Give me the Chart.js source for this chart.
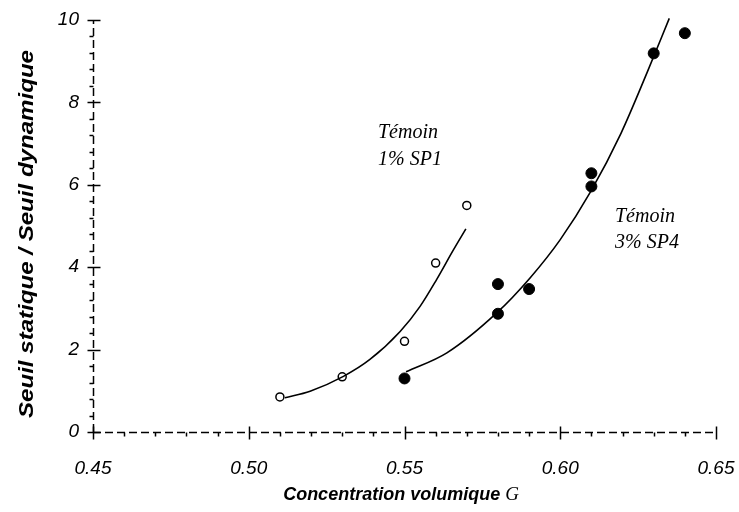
<!DOCTYPE html>
<html>
<head>
<meta charset="utf-8">
<script src="https://cdn.jsdelivr.net/npm/chart.js@4.4.1/dist/chart.umd.min.js"></script>
<style>
  html, body { margin: 0; padding: 0; background: #fff; }
  #wrap { width: 739px; height: 512px; }
</style>
</head>
<body>
<div id="wrap"><canvas id="seuilChart" width="739" height="512"></canvas></div>
<script>
// points mesurés - Témoin 1% SP1 (cercles ouverts)
const sp1X = [0.51, 0.53, 0.55, 0.56, 0.57];
const sp1Y = [0.85, 1.34, 2.2, 4.1, 5.5];

// points mesurés - Témoin 3% SP4 (cercles pleins)
const sp4X = [0.55, 0.58, 0.58, 0.59, 0.61, 0.61, 0.63, 0.64];
const sp4Y = [1.3, 3.59, 2.87, 3.47, 6.28, 5.96, 9.19, 9.68];

// courbes d'ajustement
const fit1X = [0.5116, 0.5197, 0.5304, 0.5389, 0.5486, 0.555, 0.5603, 0.5657, 0.5697];
const fit1Y = [0.83, 0.99, 1.35, 1.76, 2.44, 3.05, 3.70, 4.42, 4.93];
const fit2X = [0.5505, 0.5636, 0.5796, 0.5903, 0.60, 0.6098, 0.6195, 0.6278, 0.635];
const fit2Y = [1.46, 1.92, 2.89, 3.74, 4.67, 5.84, 7.25, 8.71, 10.04];

// graduations
const xTicks = [0.45, 0.50, 0.55, 0.60, 0.65];
const xMinor = [0.46, 0.47, 0.48, 0.49, 0.51, 0.52, 0.53, 0.54, 0.56, 0.57, 0.58, 0.59, 0.61, 0.62, 0.63, 0.64];
const yTicks = [0, 2, 4, 6, 8, 10];
const yMinor = [0.4, 0.8, 1.2, 1.6, 2.4, 2.8, 3.2, 3.6, 4.4, 4.8, 5.2, 5.6, 6.4, 6.8, 7.2, 7.6, 8.4, 8.8, 9.2, 9.6];

const toPts = (xs, ys) => xs.map((x, i) => ({x: x, y: ys[i]}));

// axes en tirets, graduations, titres et textes
const decor = {
  id: 'decor',
  beforeDatasetsDraw(chart) {
    const ctx = chart.ctx;
    const sx = chart.scales.x, sy = chart.scales.y;
    const area = chart.chartArea;
    const yb = Math.round(area.bottom) + 0.5;
    const xl = Math.round(area.left) + 0.5;
    ctx.save();
    ctx.strokeStyle = '#000';
    ctx.lineWidth = 1.5;
    ctx.setLineDash([8, 4]);
    ctx.beginPath();
    ctx.moveTo(area.left, yb);
    ctx.lineTo(area.right, yb);
    ctx.moveTo(xl, area.bottom);
    ctx.lineTo(xl, area.top);
    ctx.stroke();
    ctx.setLineDash([]);
    ctx.beginPath();
    xTicks.forEach(v => {
      const p = Math.round(sx.getPixelForValue(v)) + 0.5;
      ctx.moveTo(p, yb - 6);
      ctx.lineTo(p, yb + 7);
    });
    xMinor.forEach(v => {
      const p = Math.round(sx.getPixelForValue(v)) + 0.5;
      ctx.moveTo(p, yb);
      ctx.lineTo(p, yb + 4);
    });
    yTicks.forEach(v => {
      const p = Math.round(sy.getPixelForValue(v)) + 0.5;
      ctx.moveTo(xl - 6, p);
      ctx.lineTo(xl + 7, p);
    });
    yMinor.forEach(v => {
      const p = Math.round(sy.getPixelForValue(v)) + 0.5;
      ctx.moveTo(xl - 4, p);
      ctx.lineTo(xl, p);
    });
    ctx.stroke();
    ctx.restore();
  },
  afterDraw(chart) {
    const ctx = chart.ctx;
    ctx.save();
    ctx.fillStyle = '#000';
    ctx.textBaseline = 'alphabetic';

    // titre de l'axe x
    ctx.font = 'italic bold 18px "Liberation Sans", Arial, sans-serif';
    const t1 = 'Concentration volumique ';
    const w1 = ctx.measureText(t1).width;
    ctx.font = 'italic 19px "Liberation Serif", serif';
    const w2 = ctx.measureText('G').width;
    const x0 = 401 - (w1 + w2) / 2;
    ctx.font = 'italic bold 18px "Liberation Sans", Arial, sans-serif';
    ctx.fillText(t1, x0, 500);
    ctx.font = 'italic 19px "Liberation Serif", serif';
    ctx.fillText('G', x0 + w1, 500);

    // titre de l'axe y
    ctx.save();
    ctx.translate(33, 234);
    ctx.rotate(-Math.PI / 2);
    ctx.font = 'italic bold 20px "Liberation Sans", Arial, sans-serif';
    const ty = 'Seuil statique / Seuil dynamique';
    const wy = ctx.measureText(ty).width;
    ctx.scale(368 / wy, 1);
    ctx.textAlign = 'center';
    ctx.fillText(ty, 0, 0);
    ctx.restore();

    // étiquettes des courbes
    ctx.font = 'italic 20px "Liberation Serif", "Times New Roman", serif';
    ctx.textAlign = 'left';
    ctx.fillText('Témoin', 378, 138);
    ctx.fillText('1% SP1', 378, 165);
    ctx.fillText('Témoin', 615, 222);
    ctx.fillText('3% SP4', 615, 248);
    ctx.restore();
  }
};

const tickFont = {family: '"Liberation Sans", Arial, sans-serif', size: 19, style: 'italic'};

new Chart(document.getElementById('seuilChart').getContext('2d'), {
  type: 'scatter',
  data: {
    datasets: [
      {
        data: toPts(fit1X, fit1Y),
        showLine: true,
        borderColor: '#000',
        borderWidth: 1.6,
        pointRadius: 0,
        cubicInterpolationMode: 'monotone'
      },
      {
        data: toPts(fit2X, fit2Y),
        showLine: true,
        borderColor: '#000',
        borderWidth: 1.6,
        pointRadius: 0,
        cubicInterpolationMode: 'monotone'
      },
      {
        data: toPts(sp1X, sp1Y),
        pointRadius: 4,
        pointBackgroundColor: '#fff',
        pointBorderColor: '#000',
        pointBorderWidth: 1.5
      },
      {
        data: toPts(sp4X, sp4Y),
        pointRadius: 5.5,
        pointBackgroundColor: '#000',
        pointBorderColor: '#000',
        pointBorderWidth: 1
      }
    ]
  },
  options: {
    responsive: false,
    animation: false,
    clip: false,
    layout: {padding: {top: 20, right: 23, left: 0, bottom: 0}},
    plugins: {
      legend: {display: false},
      tooltip: {enabled: false}
    },
    scales: {
      x: {
        type: 'linear',
        min: 0.45,
        max: 0.65,
        afterBuildTicks: s => { s.ticks = xTicks.map(v => ({value: v})); },
        afterFit: s => { s.height = 80; s.paddingLeft = 0; s.paddingRight = 0; },
        grid: {display: false, drawTicks: false},
        border: {display: false},
        ticks: {
          color: '#000',
          font: tickFont,
          padding: 25,
          callback: v => v.toFixed(2)
        }
      },
      y: {
        type: 'linear',
        min: 0,
        max: 10,
        afterBuildTicks: s => { s.ticks = yTicks.map(v => ({value: v})); },
        afterFit: s => { s.width = 93; s.paddingTop = 0; s.paddingBottom = 0; },
        grid: {display: false, drawTicks: false},
        border: {display: false},
        ticks: {
          color: '#000',
          font: tickFont,
          padding: 14,
          callback: v => String(v)
        }
      }
    }
  },
  plugins: [decor]
});
</script>
</body>
</html>
